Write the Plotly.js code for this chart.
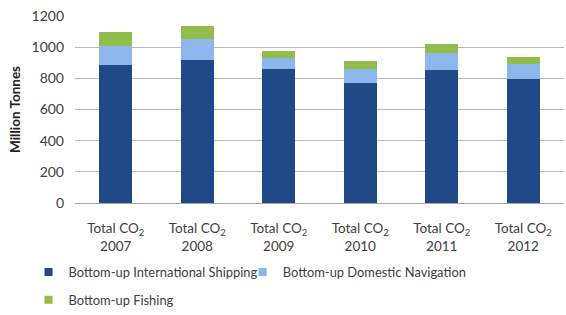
<!DOCTYPE html>
<html><head><meta charset="utf-8">
<script src="https://cdn.plot.ly/plotly-3.0.1.min.js"></script>
<style>html,body{margin:0;padding:0;background:#fff}#c{width:566px;height:315px}</style>
</head><body><div id="c"></div>
<script>
var categories = ["Total CO<sub>2</sub><br>2007","Total CO<sub>2</sub><br>2008","Total CO<sub>2</sub><br>2009","Total CO<sub>2</sub><br>2010","Total CO<sub>2</sub><br>2011","Total CO<sub>2</sub><br>2012"];
var international = [885, 915, 858, 772, 852, 797];
var domestic = [125, 138, 72, 90, 110, 93];
var fishing = [90, 80, 44, 50, 58, 46];
var names = ["Bottom-up International Shipping","Bottom-up Domestic Navigation","Bottom-up Fishing"];
var colors = ["#1F4A87","#8DB6EA","#93BD4A"];
var legendIds = ['legend','legend3','legend2'];
var series = [international, domestic, fishing];
var traces = series.map(function(v,i){return {type:'bar',x:categories,y:v,name:names[i],marker:{color:colors[i]},showlegend:false};});
// legend entries (small square keys, no data drawn)
names.forEach(function(n,i){traces.push({type:'scatter',mode:'markers',x:[null],y:[null],name:n,legend:legendIds[i],marker:{symbol:'square',size:8,color:colors[i]},showlegend:true});});
var fnt = 'Lato, "Open Sans", sans-serif';
var lf = {size:12.9,color:'#404040'};
var layout = {
  width:566,height:315,barmode:'stack',bargap:0.59,
  margin:{l:75,r:2,t:16,b:111},
  paper_bgcolor:'#fff',plot_bgcolor:'#fff',
  font:{family:fnt,size:13,color:'#404040'},
  xaxis:{showline:true,linecolor:'#a6a6a6',linewidth:1,ticks:'',tickfont:{size:13.5,color:'#404040'},ticklabelstandoff:13,fixedrange:true},
  yaxis:{range:[0,1200],dtick:200,showgrid:true,gridcolor:'#b8b8b8',gridwidth:1,zeroline:false,showline:false,
    tickfont:{size:14,color:'#404040'},ticklen:0,ticklabelstandoff:10,
    title:{text:'<b>Million Tonnes</b>',font:{size:13.5,color:'#222'},standoff:7}},
  legend:{orientation:'h',x:-0.095,xanchor:'left',y:-0.282,yanchor:'top',font:lf,itemwidth:30,bgcolor:'rgba(0,0,0,0)'},
  legend3:{orientation:'h',x:0.343,xanchor:'left',y:-0.282,yanchor:'top',font:lf,itemwidth:30,bgcolor:'rgba(0,0,0,0)'},
  legend2:{orientation:'h',x:-0.095,xanchor:'left',y:-0.59,yanchor:'bottom',font:lf,itemwidth:30,bgcolor:'rgba(0,0,0,0)'},
  showlegend:true
};
Plotly.newPlot('c',traces,layout,{displayModeBar:false,staticPlot:true});
</script></body></html>
